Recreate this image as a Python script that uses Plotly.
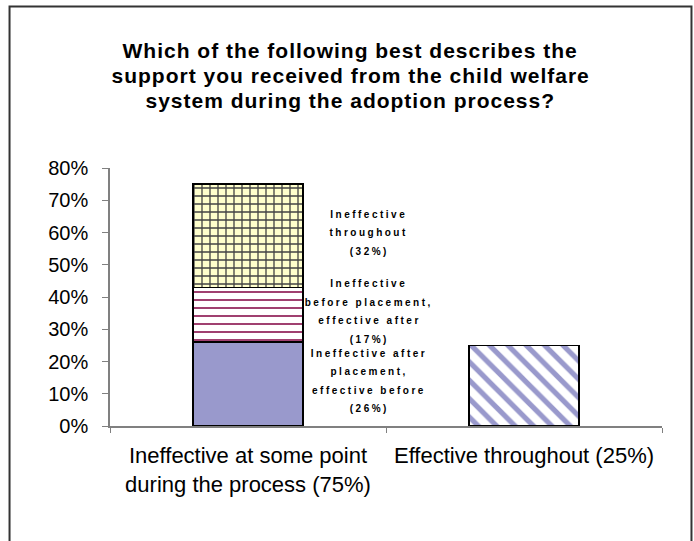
import plotly.graph_objects as go

# 질문/카테고리/값
TITLE_LINES = [
    "Which of the following best describes the",
    "support you received from the child welfare",
    "system during the adoption process?",
]
CATEGORIES = ["Ineffective at some point<br>during the process (75%)",
              "Effective throughout (25%)"]
# 첫 번째 막대를 쌓는 세 조각 (아래부터)
SEG_NAMES = ["Ineffective after placement, effective before",
             "Ineffective before placement, effective after",
             "Ineffective throughout"]
SEG_VALUES = [26, 17, 32]
SEG_LABEL_LINES = [
    ["Ineffective after", "placement,", "effective before", "(26%)"],
    ["Ineffective", "before placement,", "effective after", "(17%)"],
    ["Ineffective", "throughout", "(32%)"],
]
EFFECTIVE_VALUE = [25]
Y_TICKS = [0, 10, 20, 30, 40, 50, 60, 70, 80]

FONT = "Arial, Liberation Sans, sans-serif"

# 조각별 채우기 (패턴)
SEG_STYLES = [
    dict(color="#9999CC"),
    dict(color="white", pattern=dict(shape="-", fgcolor="#A04070", bgcolor="white",
                                     size=8, solidity=0.25, fgopacity=1)),
    dict(color="#FFFFCC", pattern=dict(shape="+", fgcolor="#444444", bgcolor="#FFFFCC",
                                       size=8, solidity=0.3, fgopacity=1)),
]

fig = go.Figure()
for name, val, st in zip(SEG_NAMES, SEG_VALUES, SEG_STYLES):
    fig.add_trace(go.Bar(
        x=[CATEGORIES[0]], y=[val], name=name,
        marker=dict(line=dict(color="black", width=1.5), **st),
        hoverinfo="skip",
    ))
fig.add_trace(go.Bar(
    x=[CATEGORIES[1]], y=EFFECTIVE_VALUE, name="Effective throughout",
    marker=dict(color="white", line=dict(color="black", width=1.5),
                pattern=dict(shape="\\", fgcolor="#9999CC", bgcolor="white",
                             size=13, solidity=0.4, fgopacity=1)),
    hoverinfo="skip",
))

# 조각 라벨: 조각 가운데 높이에 줄 단위로 배치 (자간은 아래 스크립트로)
base = 0
for val, lines in zip(SEG_VALUES, SEG_LABEL_LINES):
    mid = base + val / 2
    n = len(lines)
    for i, line in enumerate(lines):
        fig.add_annotation(
            x=0.44, y=mid, xref="x", yref="y", text=f"<b>{line}</b>",
            showarrow=False, yshift=((n - 1) / 2 - i) * 18.5 + 3,
            font=dict(family=FONT, size=10, color="black"),
        )
    base += val

# 제목 (세 줄, 줄간격 25px 정도)
for i, line in enumerate(TITLE_LINES):
    fig.add_annotation(
        x=0.4348, y=1.508 - i * 0.097, xref="paper", yref="paper",
        text=f"<b>{line}</b>", showarrow=False,
        font=dict(family=FONT, size=21, color="black"),
    )

# 바깥 테두리
fig.add_shape(type="rect", xref="paper", yref="paper",
              x0=-0.182, x1=1.0534, y0=-0.5, y1=1.626,
              line=dict(color="#333333", width=2))

fig.update_layout(
    width=694, height=541,
    margin=dict(l=110, r=32, t=168, b=115),
    barmode="stack", bargap=0.6,
    showlegend=False,
    paper_bgcolor="white", plot_bgcolor="white",
    font=dict(family=FONT, color="black"),
    xaxis=dict(
        showline=True, linecolor="#808080", linewidth=1.5,
        ticks="outside", tickson="boundaries", ticklen=5, tickcolor="#808080",
        tickfont=dict(size=22), showgrid=False, ticklabelstandoff=9,
    ),
    yaxis=dict(
        range=[0, 80], tickvals=Y_TICKS, ticktext=[f"{v}%" for v in Y_TICKS],
        showline=True, linecolor="#808080", linewidth=1.5,
        ticks="outside", ticklen=6, tickcolor="#808080",
        tickfont=dict(size=20), showgrid=False, zeroline=False,
        ticklabelstandoff=10,
    ),
)

# body 기본 여백 제거 + 엑셀처럼 글자 사이 벌리기 (작은 라벨, 제목)
SPACING_JS = """
document.body.style.margin = '0';
var gd = document.getElementById('{plot_id}');
function spread() {
  gd.querySelectorAll('.annotation-text').forEach(function (el) {
    var fs = el.style.fontSize;
    if (fs === '10px') el.style.letterSpacing = '2.5px';
    if (fs === '21px') el.style.letterSpacing = '1px';
  });
}
spread();
gd.on('plotly_afterplot', spread);
"""

fig.write_html("out.html", post_script=SPACING_JS,
               config={"displayModeBar": False})
